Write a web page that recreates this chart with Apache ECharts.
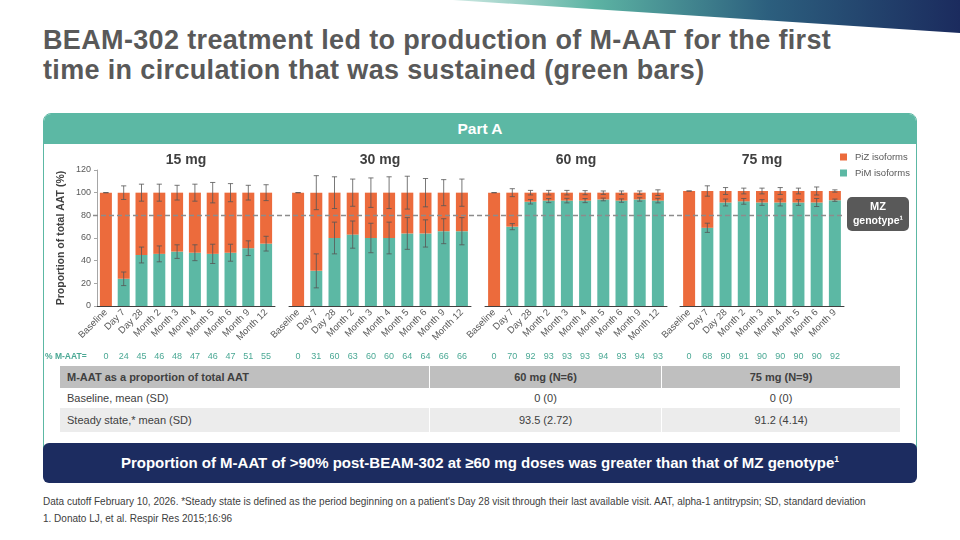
<!DOCTYPE html>
<html>
<head>
<meta charset="utf-8">
<script src="https://cdn.jsdelivr.net/npm/echarts@6/dist/echarts.min.js"></script>
<style>
  body { margin: 0; background: #fff; }
  #page { position: relative; width: 960px; height: 540px; overflow: hidden; background: #fff;
          font-family: "Liberation Sans", Arial, sans-serif; }
  #wedge { position: absolute; left: 0; top: 0; width: 960px; height: 34px;
           background: linear-gradient(to right, #cfe9e3 47%, #5cb3a3 62%, #2c5f7e 80%, #1b2b5e 100%);
           clip-path: polygon(453px 0, 960px 0, 960px 33px); }
  #title { position: absolute; left: 43px; top: 25px; font-size: 27px; line-height: 30px;
           letter-spacing: 0.35px; font-weight: bold; color: #595959; white-space: nowrap; }
  #panel { position: absolute; left: 43px; top: 113px; width: 872px; height: 334px;
           border: 1px solid #5cb8a4; border-radius: 8px 8px 0 0; }
  #panelHead { height: 30px; line-height: 30px; background: #5cb8a4; color: #fff; text-align: center;
               font-weight: bold; font-size: 15.5px; border-radius: 7px 7px 0 0; }
  #tbl { position: absolute; left: 60px; top: 366px; width: 840px; border-collapse: collapse;
         font-size: 11px; color: #404040; }
  #tbl td { border-left: 1px solid #fff; padding: 0; text-align: center; }
  #tbl td:first-child { text-align: left; padding-left: 7px; border-left: none; }
  #tbl tr.h td { background: #bfbfbf; font-weight: bold; height: 22px; }
  #tbl tr.r1 td { background: #fff; height: 20px; }
  #tbl tr.r2 td { background: #ececec; height: 24px; }
  #banner { position: absolute; left: 43px; top: 443px; width: 874px; height: 40px; line-height: 40px;
            background: #1c2c60; color: #fff; text-align: center; font-weight: bold; font-size: 15px;
            border-radius: 6px; }
  #banner sup { font-size: 8.5px; line-height: 0; }
  #notes { position: absolute; left: 43px; top: 493px; font-size: 10px; line-height: 17px; color: #404040; white-space: nowrap; }
  #chart { position: absolute; left: 0; top: 0; width: 960px; height: 540px; }
</style>
</head>
<body>
<div id="page">
  <div id="wedge"></div>
  <div id="title">BEAM-302 treatment led to production of M-AAT for the first<br>time in circulation that was sustained (green bars)</div>
  <div id="panel"><div id="panelHead">Part A</div></div>
  <table id="tbl">
    <tr class="h"><td style="width:362px">M-AAT as a proportion of total AAT</td><td style="width:231px">60 mg (N=6)</td><td>75 mg (N=9)</td></tr>
    <tr class="r1"><td>Baseline, mean (SD)</td><td>0 (0)</td><td>0 (0)</td></tr>
    <tr class="r2"><td>Steady state,* mean (SD)</td><td>93.5 (2.72)</td><td>91.2 (4.14)</td></tr>
  </table>
  <div id="banner">Proportion of M-AAT of &gt;90% post-BEAM-302 at ≥60 mg doses was greater than that of MZ genotype<sup>1</sup></div>
  <div id="notes">Data cutoff February 10, 2026. *Steady state is defined as the period beginning on a patient's Day 28 visit through their last available visit. AAT, alpha-1 antitrypsin; SD, standard deviation<br>1. Donato LJ, et al. Respir Res 2015;16:96</div>
  <div id="chart"></div>
</div>
<script>
// visits per dose group
var cats12 = ['Baseline', 'Day 7', 'Day 28', 'Month 2', 'Month 3', 'Month 4', 'Month 5', 'Month 6', 'Month 9', 'Month 12'];
var cats9 = ['Baseline', 'Day 7', 'Day 28', 'Month 2', 'Month 3', 'Month 4', 'Month 5', 'Month 6', 'Month 9'];
var doses = ['15 mg', '30 mg', '60 mg', '75 mg'];

// PiM (green) and PiZ (orange) share of total AAT, %
var pim15 = [0, 24, 45, 46, 48, 47, 46, 47, 51, 55];
var piz15 = [100, 76, 55, 54, 52, 53, 54, 53, 49, 45];
var pim30 = [0, 31, 60, 63, 60, 60, 64, 64, 66, 66];
var piz30 = [100, 69, 40, 37, 40, 40, 36, 36, 34, 34];
var pim60 = [0, 70, 92, 93, 93, 93, 94, 93, 94, 93];
var piz60 = [100, 30, 8, 7, 7, 7, 6, 7, 6, 7];
var pim75 = [0, 68, 90, 91, 90, 90, 90, 90, 92];
var piz75 = [100, 32, 10, 9, 10, 10, 10, 10, 8];

// SD error bars
var sdPim15 = [0, 6, 7, 7, 6, 7, 8.5, 7.5, 6.5, 6.5];
var sdPiz15 = [0, 6, 7.5, 7.5, 6.5, 7.5, 9, 8, 6.5, 7];
var sdPim30 = [0, 15, 14, 12, 13, 14, 14, 12, 11, 12];
var sdPiz30 = [0, 15, 14, 12, 13, 14, 14.5, 12.5, 11.5, 12];
var sdPim60 = [0, 2.7, 2, 1.8, 2, 1.8, 1.2, 1.5, 1.5, 2];
var sdPiz60 = [0, 3.5, 2, 2, 2, 1.8, 1.5, 1.5, 1.5, 2.5];
var sdPim75 = [0, 4, 3, 2.5, 2.5, 3, 2.5, 3.5, 1];
var sdPiz75 = [0, 4.5, 3, 2.5, 2.5, 3, 2.5, 3.5, 1];

var yTicks = [0, 120, 20]; // min, max, interval
var mzLevel = 80;

var GREEN = '#5cb8a4', ORANGE = '#ec6b3c', TEAL_TXT = '#4aa894';
var FONT = '"Liberation Sans", Arial, sans-serif';

var panels = [
  {cats: cats12, pim: pim15, piz: piz15, sdPim: sdPim15, sdPiz: sdPiz15, left: 97, width: 178, top: 170},
  {cats: cats12, pim: pim30, piz: piz30, sdPim: sdPim30, sdPiz: sdPiz30, left: 289, width: 182, top: 170},
  {cats: cats12, pim: pim60, piz: piz60, sdPim: sdPim60, sdPiz: sdPiz60, left: 485, width: 182, top: 170},
  {cats: cats9, pim: pim75, piz: piz75, sdPim: sdPim75, sdPiz: sdPiz75, left: 680, width: 164, top: 168}
];

// vertical error bar with caps
function errRender(params, api) {
  var x = api.value(0), y = api.value(1), sd = api.value(2);
  var hi = api.coord([x, y + sd]);
  var lo = api.coord([x, y - sd]);
  var cap = 2.6;
  var st = {stroke: '#555555', lineWidth: 0.8};
  return {
    type: 'group',
    children: [
      {type: 'line', shape: {x1: hi[0], y1: hi[1], x2: lo[0], y2: lo[1]}, style: st},
      {type: 'line', shape: {x1: hi[0] - cap, y1: hi[1], x2: hi[0] + cap, y2: hi[1]}, style: st},
      {type: 'line', shape: {x1: lo[0] - cap, y1: lo[1], x2: lo[0] + cap, y2: lo[1]}, style: st}
    ]
  };
}

var grid = [], xAxis = [], yAxis = [], series = [], graphic = [];

panels.forEach(function (p, i) {
  grid.push({left: p.left, width: p.width, top: p.top, bottom: 234});
  xAxis.push({
    type: 'category', gridIndex: i, data: p.cats,
    axisLine: {lineStyle: {color: '#404040', width: 1}},
    axisTick: {show: false},
    axisLabel: {interval: 0, rotate: 45, fontSize: 9.5, color: '#595959', margin: 5, fontFamily: FONT}
  });
  // "% M-AAT=" row under each panel
  xAxis.push({
    type: 'category', gridIndex: i, data: p.pim.map(String), position: 'bottom',
    axisLine: {show: false}, axisTick: {show: false},
    axisLabel: {interval: 0, fontSize: 9, color: TEAL_TXT, margin: 46, fontFamily: FONT}
  });
  yAxis.push({
    type: 'value', gridIndex: i, min: yTicks[0], max: yTicks[1], interval: yTicks[2],
    show: i === 0,
    name: 'Proportion of total AAT (%)', nameLocation: 'middle', nameGap: 30,
    nameTextStyle: {fontSize: 10.5, fontWeight: 'bold', color: '#404040', fontFamily: FONT},
    axisLine: {show: true, lineStyle: {color: '#a6a6a6'}},
    axisTick: {show: true, length: 3, lineStyle: {color: '#a6a6a6'}},
    axisLabel: {fontSize: 9, color: '#595959', margin: 6, fontFamily: FONT},
    splitLine: {show: false}
  });
  series.push({
    name: 'PiM isoforms', type: 'bar', xAxisIndex: i * 2, yAxisIndex: i, stack: 'st' + i,
    data: p.pim, barWidth: 12, itemStyle: {color: GREEN}
  });
  series.push({
    name: 'PiZ isoforms', type: 'bar', xAxisIndex: i * 2, yAxisIndex: i, stack: 'st' + i,
    data: p.piz, barWidth: 12, itemStyle: {color: ORANGE}
  });
  var eTop = [], eMid = [];
  p.pim.forEach(function (v, k) {
    eTop.push([k, v + p.piz[k], p.sdPiz[k]]);
    if (v > 0) eMid.push([k, v, p.sdPim[k]]);
  });
  series.push({type: 'custom', xAxisIndex: i * 2, yAxisIndex: i, renderItem: errRender, data: eTop, z: 4, silent: true});
  series.push({type: 'custom', xAxisIndex: i * 2, yAxisIndex: i, renderItem: errRender, data: eMid, z: 4, silent: true});
  graphic.push({
    type: 'text', x: p.left + p.width / 2, y: 160,
    style: {text: doses[i], fontSize: 14, fontWeight: 'bold', fill: '#404040', fontFamily: FONT,
            textAlign: 'center', textVerticalAlign: 'middle'}
  });
});

// full-width grid carrying the MZ genotype reference line
grid.push({left: 93, right: 117, top: 170, bottom: 234});
xAxis.push({type: 'value', gridIndex: 4, min: 0, max: 1, show: false});
yAxis.push({type: 'value', gridIndex: 4, min: yTicks[0], max: yTicks[1], show: false});
series.push({
  type: 'line', xAxisIndex: 8, yAxisIndex: 4, data: [], z: 6,
  markLine: {
    silent: true, symbol: 'none', label: {show: false},
    lineStyle: {type: [5, 3], color: '#8c8c8c', width: 1.3},
    data: [{yAxis: mzLevel}]
  }
});

graphic.push({
  type: 'text', x: 45, y: 357,
  style: {text: '% M-AAT=', fontSize: 8.5, fontWeight: 'bold', fill: TEAL_TXT, fontFamily: FONT, textVerticalAlign: 'middle'}
});
graphic.push({
  type: 'group', left: 847, top: 197,
  children: [
    {type: 'rect', shape: {x: 0, y: 0, width: 62, height: 34, r: 5}, style: {fill: '#595959'}},
    {type: 'text', x: 31, y: 10, style: {text: 'MZ', fontSize: 11, fontWeight: 'bold', fill: '#fff', fontFamily: FONT, textAlign: 'center', textVerticalAlign: 'middle'}},
    {type: 'text', x: 31, y: 24, style: {text: 'genotype¹', fontSize: 10.5, fontWeight: 'bold', fill: '#fff', fontFamily: FONT, textAlign: 'center', textVerticalAlign: 'middle'}}
  ]
});

var myChart = echarts.init(document.getElementById('chart'));
myChart.setOption({
  animation: false,
  legend: {
    data: ['PiZ isoforms', 'PiM isoforms'], orient: 'vertical', left: 840, top: 152,
    icon: 'rect', itemWidth: 7, itemHeight: 7, itemGap: 6, padding: 0,
    textStyle: {fontSize: 9.5, color: '#595959', fontFamily: FONT, padding: [0, 0, 0, 3]}
  },
  grid: grid,
  xAxis: xAxis,
  yAxis: yAxis,
  series: series,
  graphic: graphic
});
</script>
</body>
</html>
